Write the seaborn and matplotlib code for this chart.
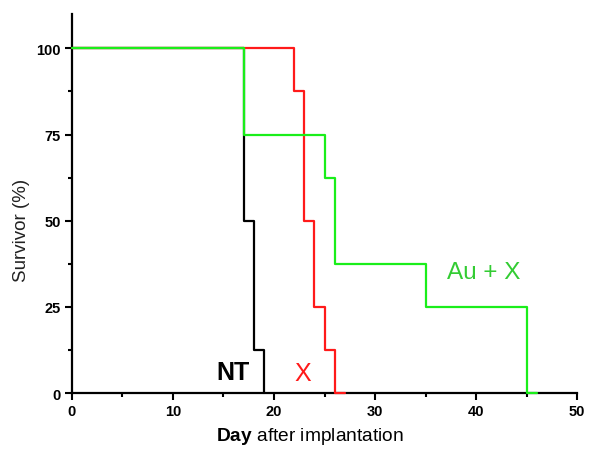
import matplotlib
matplotlib.use("Agg")
import matplotlib.pyplot as plt
import pandas as pd
import seaborn as sns
from matplotlib.ticker import MultipleLocator

# survival steps (steps-post): day at which the value starts
nt_days = [0, 17, 18, 19]
nt_surv = [100, 50, 12.5, 0]
x_days = [0, 22, 23, 24, 25, 26, 27]
x_surv = [100, 87.5, 50, 25, 12.5, 0, 0]
aux_days = [0, 17, 25, 26, 35, 45, 46]
aux_surv = [100, 75, 62.5, 37.5, 25, 0, 0]

groups = ["NT", "X", "Au + X"]
colors = {"NT": "#000000", "X": "#ff1a1a", "Au + X": "#1aee1a"}

rows = []
for g, d, s in [("NT", nt_days, nt_surv), ("X", x_days, x_surv), ("Au + X", aux_days, aux_surv)]:
    for di, si in zip(d, s):
        rows.append({"group": g, "day": di, "survival": si})
df = pd.DataFrame(rows)

sns.set_style("ticks")
plt.rcParams["font.family"] = ["Liberation Sans", "DejaVu Sans"]
plt.rcParams["mathtext.fontset"] = "custom"
plt.rcParams["mathtext.bf"] = "Liberation Sans:bold"
plt.rcParams["mathtext.rm"] = "Liberation Sans"
for key in ["text.color", "axes.labelcolor", "xtick.color", "ytick.color", "axes.edgecolor"]:
    plt.rcParams[key] = "black"

fig = plt.figure(figsize=(5.89, 4.52), dpi=100)
ax = fig.add_axes([0.122, 0.128, 0.858, 0.839])

sns.lineplot(
    data=df,
    x="day",
    y="survival",
    hue="group",
    hue_order=groups,
    palette=colors,
    drawstyle="steps-post",
    estimator=None,
    sort=False,
    legend=False,
    linewidth=1.6,
    ax=ax,
)
for line in ax.lines:
    line.set_clip_on(False)
    line.set_zorder(3)

ax.set_xlim(0, 50)
ax.set_ylim(0, 110)
ax.xaxis.set_major_locator(MultipleLocator(10))
ax.xaxis.set_minor_locator(MultipleLocator(5))
ax.yaxis.set_minor_locator(MultipleLocator(12.5))
ax.set_yticks([0, 25, 50, 75, 100])

for side in ["top", "right"]:
    ax.spines[side].set_visible(False)
for side in ["left", "bottom"]:
    ax.spines[side].set_linewidth(1.6)

ax.tick_params(which="major", length=5, width=1.5, direction="out", labelsize=10.5, pad=3)
ax.tick_params(which="minor", length=3, width=1.5, direction="out")
for lab in ax.get_xticklabels() + ax.get_yticklabels():
    lab.set_fontweight("bold")

ax.set_xlabel(r"$\bf{Day}$ after implantation", fontsize=13.8)
ax.set_ylabel("Survivor (%)", fontsize=13.5, color="#222222")
ax.xaxis.set_label_coords(0.471, -0.083)
ax.yaxis.set_label_coords(-0.082, 0.433)

ax.text(15.9, 6.1, "NT", fontsize=18, fontweight="bold", color="black", ha="center", va="center")
ax.text(22.8, 5.8, "X", fontsize=18, color="#ff1a1a", ha="center", va="center")
ax.text(40.7, 35.1, "Au + X", fontsize=17.5, color="#33cc33", ha="center", va="center")

plt.savefig("out.png", dpi=100)
